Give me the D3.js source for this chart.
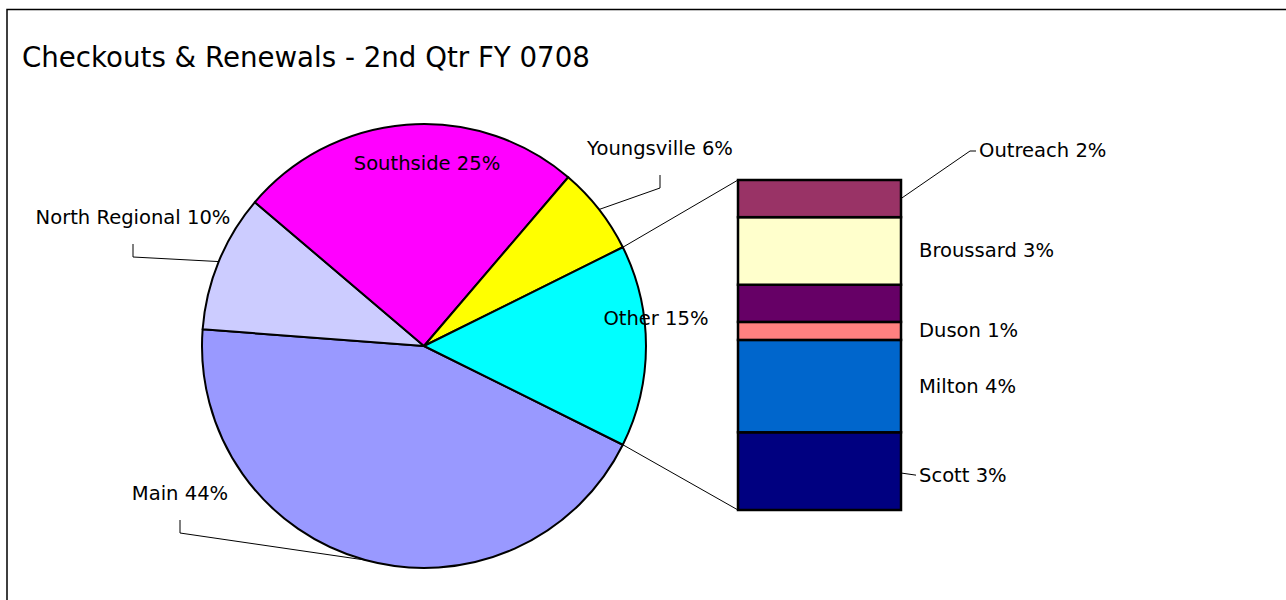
<!DOCTYPE html>
<html>
<head>
<meta charset="utf-8">
<script src="https://cdn.jsdelivr.net/npm/d3@7/dist/d3.min.js"></script>
<style>
  html, body { margin: 0; padding: 0; background: #fff; }
  svg { display: block; }
  text { font-family: "DejaVu Sans", sans-serif; fill: #000; }
</style>
</head>
<body>
<svg id="chart" width="1286" height="600"></svg>
<script>
// ---- data ----
const title = "Checkouts & Renewals - 2nd Qtr FY 0708";
const pieCategories = ["Main", "North Regional", "Southside", "Youngsville"];
const pieValues = [43.8, 10, 25, 6.4];
const pieColors = ["#9999FF", "#CCCCFF", "#FF00FF", "#FFFF00"];
const otherName = "Other";
const otherColor = "#00FFFF";
const barCategories = ["Outreach", "Broussard", "Carencro", "Duson", "Milton", "Scott"];
const barValues = [1.65, 3.0, 1.65, 0.8, 4.1, 3.45];
const barColors = ["#993366", "#FFFFCC", "#660066", "#FF8080", "#0066CC", "#000080"];
const barShowLabel = [true, true, false, true, true, true];

// ---- layout ----
const svg = d3.select("#chart");
const W = 1286, H = 600;
const cx = 424, cy = 346, R = 222;
const barX0 = 738, barX1 = 901, barTop = 180, barBottom = 510;

// frame
svg.append("path")
  .attr("d", `M7,${H + 5} V9.5 H${W + 5}`)
  .attr("fill", "none").attr("stroke", "#000").attr("stroke-width", 1.5);

// title
const titleText = svg.append("text").attr("x", 22).attr("y", 67)
  .attr("font-size", 26).text(title);

const otherTotal = d3.sum(barValues);
const allValues = pieValues.concat([otherTotal]);
const allNames = pieCategories.concat([otherName]);
const allColors = pieColors.concat([otherColor]);
const grand = d3.sum(allValues);
const pct = v => Math.round(v / grand * 100) + "%";

const otherAngle = 2 * Math.PI * otherTotal / grand;
const start = Math.PI / 2 + otherAngle / 2;
const pie = d3.pie().sort(null).value(d => d).startAngle(start).endAngle(start + 2 * Math.PI);
const arcs = pie(allValues);
const arc = d3.arc().innerRadius(0).outerRadius(R);
const polar = (a, r) => [cx + r * Math.sin(a), cy - r * Math.cos(a)];

const g = svg.append("g").attr("transform", `translate(${cx},${cy})`);
g.selectAll("path.slice").data(arcs).enter().append("path")
  .attr("class", "slice")
  .attr("d", arc)
  .attr("fill", (d, i) => allColors[i])
  .attr("stroke", "#000").attr("stroke-width", 2).attr("stroke-linejoin", "round");

// bar of pie
const y = d3.scaleLinear().domain([0, otherTotal]).range([barBottom, barTop]);
// stack from bottom: last category at the bottom
const segs = [];
let acc = 0;
for (let i = barValues.length - 1; i >= 0; i--) {
  segs.push({ i, y0: acc, y1: acc + barValues[i] });
  acc += barValues[i];
}
svg.append("g").selectAll("rect").data(segs).enter().append("rect")
  .attr("x", barX0).attr("width", barX1 - barX0)
  .attr("y", d => y(d.y1)).attr("height", d => y(d.y0) - y(d.y1))
  .attr("fill", d => barColors[d.i])
  .attr("stroke", "#000").attr("stroke-width", 2.5);

// connector lines
const otherArc = arcs[arcs.length - 1];
const pTop = polar(otherArc.startAngle, R);
const pBot = polar(otherArc.endAngle, R);
svg.append("line").attr("x1", pTop[0]).attr("y1", pTop[1]).attr("x2", barX0).attr("y2", y(otherTotal))
  .attr("stroke", "#000").attr("stroke-width", 1);
svg.append("line").attr("x1", pBot[0]).attr("y1", pBot[1]).attr("x2", barX0).attr("y2", y(0))
  .attr("stroke", "#000").attr("stroke-width", 1);

const labelSize = 17;
const labels = svg.append("g");

// outside pie labels with leaders (elbow positions are layout)
const outside = {
  "Main": { x: 180, top: 520 },
  "North Regional": { x: 133, top: 244 },
  "Youngsville": { x: 660, top: 175 }
};
const tick = 13;
arcs.forEach((a, i) => {
  const name = allNames[i];
  const txt = name + " " + pct(allValues[i]);
  if (outside[name]) {
    const o = outside[name];
    const mid = (a.startAngle + a.endAngle) / 2;
    const p = polar(mid, R);
    labels.append("path")
      .attr("d", `M${o.x},${o.top} V${o.top + tick} L${p[0]},${p[1]}`)
      .attr("fill", "none").attr("stroke", "#000").attr("stroke-width", 1);
    labels.append("text").attr("x", o.x).attr("y", o.top - 20)
      .attr("text-anchor", "middle").attr("font-size", labelSize).attr("class", "lbl").text(txt);
  }
});
// inside labels
const inside = { "Southside": [427, 163], "Other": [656, 318] };
arcs.forEach((a, i) => {
  const name = allNames[i];
  if (inside[name]) {
    labels.append("text").attr("x", inside[name][0]).attr("y", inside[name][1])
      .attr("text-anchor", "middle").attr("dominant-baseline", "central")
      .attr("font-size", labelSize).attr("class", "lbl")
      .text(name + " " + pct(allValues[i]));
  }
});

// bar labels
segs.forEach(s => {
  if (!barShowLabel[s.i]) return;
  const name = barCategories[s.i];
  const midY = y((s.y0 + s.y1) / 2);
  let tx = 919, ty = midY;
  if (name === "Outreach") {
    labels.append("path").attr("d", `M${barX1},${midY} L970,151 H976`)
      .attr("fill", "none").attr("stroke", "#000").attr("stroke-width", 1);
    tx = 979; ty = 150;
  } else if (name === "Scott") {
    labels.append("path").attr("d", `M${barX1 + 1},${midY + 2} L916,${midY + 4}`)
      .attr("fill", "none").attr("stroke", "#000").attr("stroke-width", 1);
    ty = midY + 4;
  }
  labels.append("text").attr("x", tx).attr("y", ty)
    .attr("dominant-baseline", "central").attr("font-size", labelSize).attr("class", "lbl")
    .text(name + " " + pct(barValues[s.i]));
});

// fit font sizes to the reference text widths
(function fit() {
  const tw = titleText.node().getComputedTextLength();
  titleText.attr("font-size", 26 * 568 / tw);
  const ref = labels.selectAll("text.lbl").filter(function () {
    return this.textContent.indexOf("North Regional") === 0;
  }).node();
  const w = ref.getComputedTextLength();
  const s = labelSize * 195 / w;
  labels.selectAll("text.lbl").attr("font-size", s);
})();
</script>
</body>
</html>
